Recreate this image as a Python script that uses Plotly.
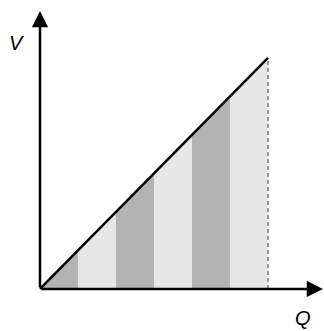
import plotly.graph_objects as go

# Data
q_edges = [0, 1, 2, 3, 4, 5, 6]          # strip boundaries along Q
strip_colors = ["#b3b3b3", "#e6e6e6", "#b3b3b3", "#e6e6e6", "#b3b3b3", "#e6e6e6"]
line_q = [0, 6]
line_v = [0, 6]                           # V = Q
axis_labels = ["V", "Q"]

fig = go.Figure()

for i in range(len(q_edges) - 1):
    a, b = q_edges[i], q_edges[i + 1]
    fig.add_trace(go.Scatter(
        x=[a, b, b, a, a], y=[0, 0, b, a, 0],
        fill="toself", fillcolor=strip_colors[i],
        mode="lines", line=dict(width=0, color=strip_colors[i]),
        hoverinfo="skip", showlegend=False))

# dashed vertical at end
fig.add_trace(go.Scatter(x=[line_q[-1], line_q[-1]], y=[0, line_v[-1]], mode="lines",
                         line=dict(color="#666666", width=1.3, dash="4px,3px"),
                         hoverinfo="skip", showlegend=False))
# diagonal line
fig.add_trace(go.Scatter(x=line_q, y=line_v, mode="lines",
                         line=dict(color="black", width=2.5),
                         hoverinfo="skip", showlegend=False))

# axes with arrows
xtip = 7.447
ytip = 7.22
for (tx, ty) in [(0, ytip), (xtip, 0)]:
    fig.add_annotation(x=tx, y=ty, ax=0, ay=0, xref="x", yref="y", axref="x", ayref="y",
                       showarrow=True, arrowhead=2, arrowsize=1.3, arrowwidth=2.5,
                       arrowcolor="black", standoff=0, text="")

fig.add_annotation(x=-0.63, y=6.4, xref="x", yref="y", text="<i>%s</i>" % axis_labels[0],
                   showarrow=False, font=dict(family="Liberation Sans", size=20, color="black"))
fig.add_annotation(x=6.92, y=-0.75, xref="x", yref="y", text="<i>%s</i>" % axis_labels[1],
                   showarrow=False, font=dict(family="Liberation Sans", size=20, color="black"))

fig.update_layout(
    width=324, height=331,
    margin=dict(l=0, r=0, t=0, b=0),
    paper_bgcolor="white", plot_bgcolor="white",
    xaxis=dict(range=[-1.0526, 7.474], visible=False, fixedrange=True),
    yaxis=dict(range=[-1.091, 7.506], visible=False, fixedrange=True),
    hovermode=False,
)

fig.write_html("out.html", config={"displayModeBar": False},
               post_script="document.body.style.margin='0';document.body.style.overflow='hidden';")
